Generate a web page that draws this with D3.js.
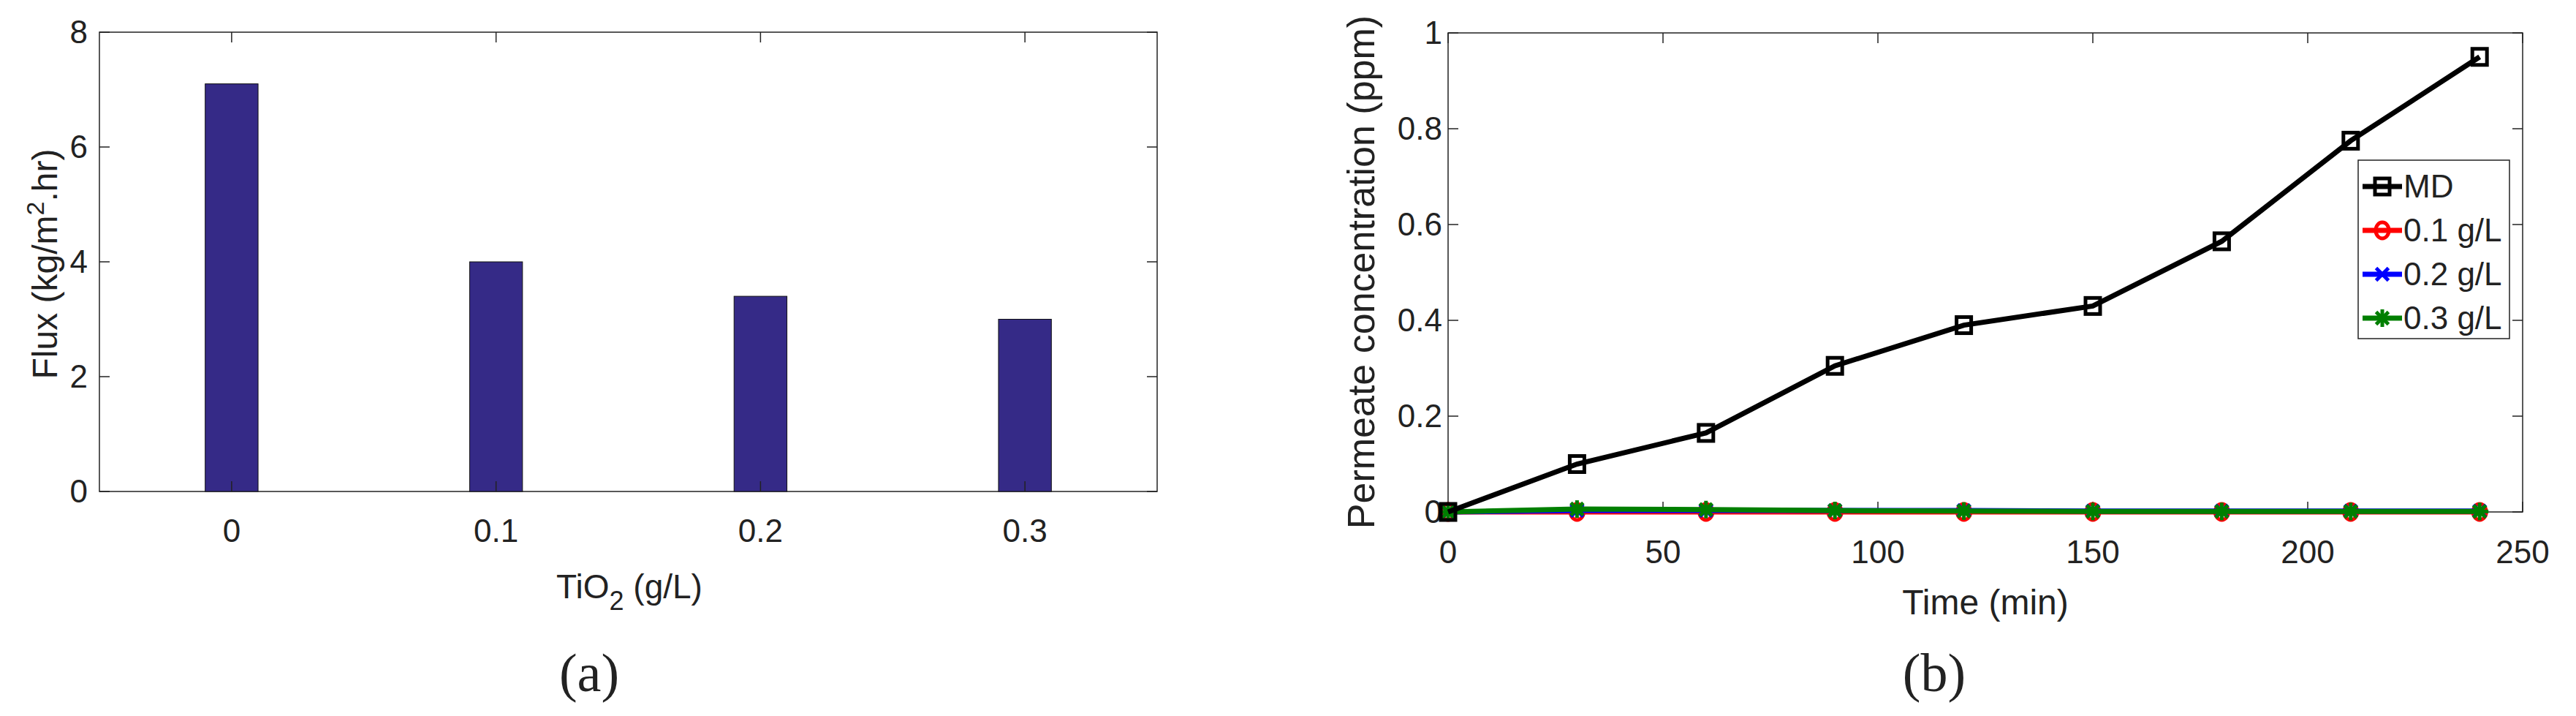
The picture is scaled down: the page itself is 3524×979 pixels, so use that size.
<!DOCTYPE html><html><head><meta charset="utf-8">
<script src="https://cdn.jsdelivr.net/npm/d3@7"></script>
<style>body{margin:0;background:#fff}text{fill:#222}</style></head><body>
<svg id="c" width="3524" height="979"></svg>
<script>
const categories=["0","0.1","0.2","0.3"];
const fluxValues=[7.1,4.0,3.4,3.0];
const fluxTicks=[0,2,4,6,8];
const times=[0,30,60,90,120,150,180,210,240];
const seriesNames=["MD","0.1 g/L","0.2 g/L","0.3 g/L"];
const mdValues=[0,0.1,0.165,0.305,0.39,0.43,0.565,0.775,0.95];
const g01Values=[0,0,0,0,0,0,0,0,0];
const g02Values=[0,0.003,0.003,0.003,0.003,0.002,0.002,0.002,0.002];
const g03Values=[0,0.006,0.005,0.003,0.002,0.001,0.001,0.001,0.001];
const timeTicks=[0,50,100,150,200,250];
const concTicks=[0,0.2,0.4,0.6,0.8,1];

const svg=d3.select("#c");
const NF="'Liberation Sans Narrow','Arial Narrow',sans-serif";
const WF="'Liberation Sans',Arial,sans-serif";
const TS=44;
// ---- chart a
const A={l:136,r:1583,t:44,b:672};
const xa=d3.scaleBand().domain(categories).range([A.l,A.r]);
const ya=d3.scaleLinear().domain([0,8]).range([A.b,A.t]);
const ga=svg.append("g");
ga.append("rect").attr("x",A.l).attr("y",A.t).attr("width",A.r-A.l).attr("height",A.b-A.t).attr("fill","none").attr("stroke","#222").attr("stroke-width",1.5);
ga.selectAll(".bar").data(fluxValues).join("rect").attr("x",(d,i)=>xa(categories[i])+xa.bandwidth()*0.4).attr("width",xa.bandwidth()*0.2)
 .attr("y",d=>ya(d)).attr("height",d=>A.b-ya(d)).attr("fill","#352a87").attr("stroke","#111").attr("stroke-width",1);
fluxTicks.forEach(t=>{
 ga.append("line").attr("x1",A.l).attr("x2",A.l+14).attr("y1",ya(t)).attr("y2",ya(t)).attr("stroke","#222").attr("stroke-width",1.5);
 ga.append("line").attr("x1",A.r-14).attr("x2",A.r).attr("y1",ya(t)).attr("y2",ya(t)).attr("stroke","#222").attr("stroke-width",1.5);
 ga.append("text").attr("x",A.l-16).attr("y",ya(t)+15).attr("text-anchor","end").attr("font-family",NF).attr("font-size",TS).text(t);
});
categories.forEach(c=>{
 const x=xa(c)+xa.bandwidth()/2;
 ga.append("line").attr("x1",x).attr("x2",x).attr("y1",A.b).attr("y2",A.b-14).attr("stroke","#222").attr("stroke-width",1.5);
 ga.append("line").attr("x1",x).attr("x2",x).attr("y1",A.t).attr("y2",A.t+14).attr("stroke","#222").attr("stroke-width",1.5);
 ga.append("text").attr("x",x).attr("y",741).attr("text-anchor","middle").attr("font-family",NF).attr("font-size",TS).text(c);
});
const xl=ga.append("text").attr("x",861).attr("y",818).attr("text-anchor","middle").attr("font-family",NF).attr("font-size",46);
xl.append("tspan").text("TiO");xl.append("tspan").attr("dy",16).attr("font-size",36).text("2");xl.append("tspan").attr("dy",-16).text(" (g/L)");
const yl=ga.append("text").attr("transform","translate(78,361) rotate(-90)").attr("text-anchor","middle").attr("font-family",WF).attr("font-size",48);
yl.append("tspan").text("Flux (kg/m");yl.append("tspan").attr("dy",-18).attr("font-size",34).text("2");yl.append("tspan").attr("dy",18).text(".hr)");
ga.append("text").attr("x",806).attr("y",945).attr("text-anchor","middle").attr("font-family","'Liberation Serif',serif").attr("font-size",74).text("(a)");
// ---- chart b
const B={l:1981,r:3451,t:45,b:700};
const xb=d3.scaleLinear().domain([0,250]).range([B.l,B.r]);
const yb=d3.scaleLinear().domain([0,1]).range([B.b,B.t]);
const gb=svg.append("g");
gb.append("rect").attr("x",B.l).attr("y",B.t).attr("width",B.r-B.l).attr("height",B.b-B.t).attr("fill","none").attr("stroke","#222").attr("stroke-width",1.5);
timeTicks.forEach(t=>{
 gb.append("line").attr("x1",xb(t)).attr("x2",xb(t)).attr("y1",B.b).attr("y2",B.b-14).attr("stroke","#222").attr("stroke-width",1.5);
 gb.append("line").attr("x1",xb(t)).attr("x2",xb(t)).attr("y1",B.t).attr("y2",B.t+14).attr("stroke","#222").attr("stroke-width",1.5);
 gb.append("text").attr("x",xb(t)).attr("y",770).attr("text-anchor","middle").attr("font-family",NF).attr("font-size",TS).text(t);
});
concTicks.forEach(t=>{
 gb.append("line").attr("x1",B.l).attr("x2",B.l+14).attr("y1",yb(t)).attr("y2",yb(t)).attr("stroke","#222").attr("stroke-width",1.5);
 gb.append("line").attr("x1",B.r-14).attr("x2",B.r).attr("y1",yb(t)).attr("y2",yb(t)).attr("stroke","#222").attr("stroke-width",1.5);
 gb.append("text").attr("x",B.l-8).attr("y",yb(t)+15).attr("text-anchor","end").attr("font-family",NF).attr("font-size",TS).text(t);
});
gb.append("text").attr("x",xb(125)).attr("y",840).attr("text-anchor","middle").attr("font-family",NF).attr("font-size",48).text("Time (min)");
gb.append("text").attr("transform","translate(1880,372) rotate(-90)").attr("text-anchor","middle").attr("font-family",WF).attr("font-size",52).text("Permeate concentration (ppm)");
gb.append("text").attr("x",2646).attr("y",945).attr("text-anchor","middle").attr("font-family","'Liberation Serif',serif").attr("font-size",74).text("(b)");
const series=[
 {name:seriesNames[0],vals:mdValues,color:"#000",m:"square"},
 {name:seriesNames[1],vals:g01Values,color:"#ff0000",m:"circle"},
 {name:seriesNames[2],vals:g02Values,color:"#0000ff",m:"x"},
 {name:seriesNames[3],vals:g03Values,color:"#007f00",m:"star"}];
function marker(g,x,y,s){
 const c=s.color;
 if(s.m==="square") g.append("rect").attr("x",x-10).attr("y",y-11).attr("width",20).attr("height",22).attr("fill","none").attr("stroke",c).attr("stroke-width",5);
 else if(s.m==="circle") g.append("ellipse").attr("cx",x).attr("cy",y).attr("rx",9).attr("ry",11).attr("fill","none").attr("stroke",c).attr("stroke-width",5);
 else { const n=s.m==="star"?8:4, off=s.m==="star"?0:Math.PI/4;
  for(let k=0;k<n;k++){const a=off+k*Math.PI*2/n;g.append("line").attr("x1",x).attr("y1",y).attr("x2",x+12*Math.cos(a)).attr("y2",y+12*Math.sin(a)).attr("stroke",c).attr("stroke-width",5);} }
}
const line=d3.line().x((d,i)=>xb(times[i])).y(d=>yb(d));
[1,2,3,0].forEach(k=>{const s=series[k];
 gb.append("path").attr("d",line(s.vals)).attr("fill","none").attr("stroke",s.color).attr("stroke-width",7);
 s.vals.forEach((v,i)=>marker(gb,xb(times[i]),yb(v),s));
});
const L={x:3226,y:219,w:207,h:244};
gb.append("rect").attr("x",L.x).attr("y",L.y).attr("width",L.w).attr("height",L.h).attr("fill","#fff").attr("stroke","#222").attr("stroke-width",1.5);
series.forEach((s,i)=>{const y=L.y+36+i*60;
 gb.append("line").attr("x1",L.x+6).attr("x2",L.x+60).attr("y1",y).attr("y2",y).attr("stroke",s.color).attr("stroke-width",7);
 marker(gb,L.x+33,y,s);
 gb.append("text").attr("x",L.x+62).attr("y",y+15).attr("font-family",NF).attr("font-size",TS).text(s.name);
});
</script></body></html>
